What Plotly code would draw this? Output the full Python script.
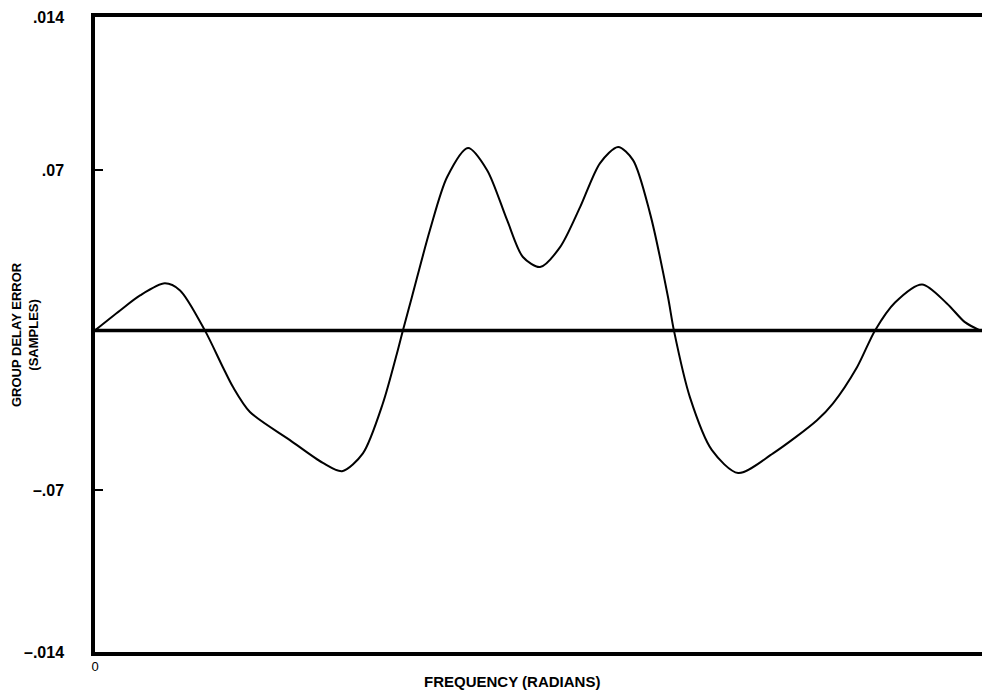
import plotly.graph_objects as go

# Group delay error of the designed filter across frequency (0 .. pi radians)
freq = [0.0, 0.089, 0.160, 0.248, 0.302, 0.390, 0.454, 0.490, 0.550, 0.692,
        0.809, 0.877, 0.951, 1.022, 1.072, 1.093, 1.125, 1.189, 1.250, 1.324,
        1.392, 1.463, 1.519, 1.580, 1.651, 1.722, 1.793, 1.857, 1.910, 1.970,
        2.034, 2.055, 2.112, 2.190, 2.283, 2.407, 2.563, 2.620, 2.705, 2.769,
        2.840, 2.936, 3.024, 3.088, 3.1416]
delay_err = [0.0, 0.0087, 0.0153, 0.0206, 0.0175, 0.0, -0.0161, -0.0248, -0.0357, -0.0480,
             -0.0580, -0.0616, -0.0538, -0.0319, -0.0100, 0.0, 0.0146, 0.0439, 0.0671, 0.0798,
             0.0701, 0.0482, 0.0321, 0.0277, 0.0364, 0.0539, 0.0732, 0.0802, 0.0745, 0.0513,
             0.0146, 0.0, -0.0293, -0.0524, -0.0624, -0.0538, -0.0393, -0.0319, -0.0161, 0.0,
             0.0122, 0.0201, 0.0118, 0.0036, 0.0]

y_tick_vals = [-0.1407, -0.07, 0.07, 0.1371]
y_tick_text = ["\u2013.014", "\u2013.07", ".07", ".014"]
x_tick_vals = [0]
x_tick_text = ["0"]

W, H = 982, 692
L, R, T, B = 95, 0, 17, 40

fig = go.Figure()
fig.add_trace(go.Scatter(
    x=freq, y=delay_err, mode="lines",
    line=dict(color="black", width=2, shape="spline", smoothing=0.8),
    hoverinfo="skip", showlegend=False,
))

# heavy zero reference line
fig.add_shape(type="line", xref="paper", yref="y", x0=0, x1=1, y0=0, y1=0,
              line=dict(color="black", width=3.5))

font = dict(family="Liberation Sans, Arial, sans-serif", color="black")

fig.update_layout(
    width=W, height=H,
    margin=dict(l=L, r=R, t=T, b=B),
    paper_bgcolor="white", plot_bgcolor="white",
    font=dict(**font, size=13),
    xaxis=dict(
        range=[0, 3.1487], showgrid=False, zeroline=False,
        showline=True, linecolor="black", linewidth=3.5, mirror=True,
        tickvals=x_tick_vals, ticktext=x_tick_text, ticks="",
        tickfont=dict(**font, size=13),
    ),
    yaxis=dict(
        range=[-0.1407, 0.1371], showgrid=False, zeroline=False,
        showline=True, linecolor="black", linewidth=3.5,
        tickvals=y_tick_vals, ticktext=y_tick_text,
        ticks="inside", ticklen=8, tickwidth=1.5, tickcolor="black",
        ticklabelstandoff=24,
        tickfont=dict(**font, size=16, weight="bold"),
    ),
    annotations=[
        dict(text="<b>FREQUENCY (RADIANS)</b>", xref="paper", yref="paper",
             x=(512 - L) / (W - L - R), y=-(681 - (H - B)) / (H - T - B),
             xanchor="center", yanchor="middle", showarrow=False,
             font=dict(**font, size=15)),
        dict(text="<b>GROUP DELAY ERROR<br>(SAMPLES)</b>", xref="paper", yref="paper",
             x=(25 - L) / (W - L - R), y=((H - B) - 335) / (H - T - B),
             xanchor="center", yanchor="middle", textangle=-90, showarrow=False,
             font=dict(**font, size=13)),
    ],
)

fig.write_html("out.html")
